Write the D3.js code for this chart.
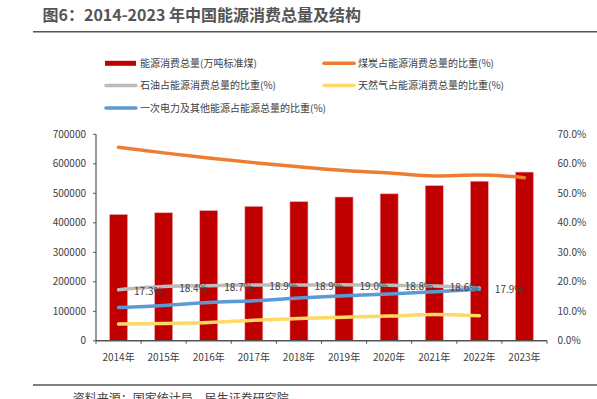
<!DOCTYPE html>
<html><head><meta charset="utf-8">
<script src="https://cdn.jsdelivr.net/npm/d3@7"></script>
<style>
body{margin:0;background:#fff;}
svg{display:block;font-family:"Noto Sans CJK SC","Noto Sans",sans-serif;}
</style></head>
<body><svg id="c" width="597" height="399"></svg>
<script>
const years = ["2014年","2015年","2016年","2017年","2018年","2019年","2020年","2021年","2022年","2023年"];
const totalEnergy = [428334,434113,441492,455827,471925,487488,498314,525896,541000,572000];
const coalShare = [65.6,63.7,62.0,60.4,59.0,57.7,56.9,55.9,56.2,55.3];
const oilShare = [17.3,18.4,18.7,18.9,18.9,19.0,18.8,18.6,17.9];
const gasShare = [5.7,5.9,6.2,7.0,7.6,8.0,8.4,8.9,8.5];
const otherShare = [11.3,12.0,13.0,13.6,14.5,15.3,15.9,16.6,17.5];
const leftTicks = [0,100000,200000,300000,400000,500000,600000,700000];
const rightTicks = [0,10,20,30,40,50,60,70];
const legendItems = [
  {name:"能源消费总量(万吨标准煤)", color:"#C00000", type:"bar"},
  {name:"煤炭占能源消费总量的比重(%)", color:"#ED7D31", type:"line"},
  {name:"石油占能源消费总量的比重(%)", color:"#BCBCBC", type:"line"},
  {name:"天然气占能源消费总量的比重(%)", color:"#FFD966", type:"line"},
  {name:"一次电力及其他能源占能源总量的比重(%)", color:"#5B9BD5", type:"line"}
];

const svg = d3.select("#c");
const L = 96, R = 547, T = 134.3, B = 340.8;
const x = d3.scaleBand().domain(years).range([L, R]).paddingInner(0.6).paddingOuter(0.3);
const xc = d => x(d) + x.bandwidth()/2;
const yL = d3.scaleLinear().domain([0,700000]).range([B,T]);
const yR = d3.scaleLinear().domain([0,70]).range([B,T]);

// title
svg.append("text").attr("x",42.5).attr("y",20.5).attr("font-size",16).attr("font-weight","bold")
  .attr("fill","#555").text("图6：2014-2023 年中国能源消费总量及结构");
svg.append("line").attr("x1",33).attr("x2",597).attr("y1",31.7).attr("y2",31.7)
  .attr("stroke","#555").attr("stroke-width",1.5);

// legend
const legPos = [[105,63.3],[323,63.3],[105,85.5],[323,85.5],[105,108]];
legendItems.forEach((it,i)=>{
  const [lx,ly] = legPos[i];
  if(it.type==="bar"){
    svg.append("rect").attr("x",lx).attr("y",ly-2.5).attr("width",31).attr("height",5).attr("fill",it.color);
  } else {
    svg.append("line").attr("x1",lx+1).attr("x2",lx+31).attr("y1",ly).attr("y2",ly)
      .attr("stroke",it.color).attr("stroke-width",3.5).attr("stroke-linecap","round");
  }
  svg.append("text").attr("x",lx+35).attr("y",ly).attr("dy","0.35em").attr("font-size",10)
    .attr("fill","#404040").text(it.name);
});

// bars
svg.append("g").selectAll("rect").data(totalEnergy).join("rect")
  .attr("x",(d,i)=>x(years[i])).attr("width",x.bandwidth())
  .attr("y",d=>yL(d)).attr("height",d=>B-yL(d))
  .attr("fill","#C00000").attr("stroke","#eab4b4").attr("stroke-width",0.6);

// lines
const lineGen = d3.line().x((d,i)=>xc(years[i])).y(d=>yR(d)).curve(d3.curveMonotoneX);
[[coalShare,"#ED7D31"],[oilShare,"#BCBCBC"],[gasShare,"#FFD966"],[otherShare,"#5B9BD5"]].forEach(([data,col])=>{
  svg.append("path").datum(data).attr("d",lineGen).attr("fill","none")
    .attr("stroke",col).attr("stroke-width",3.5).attr("stroke-linecap","round");
});

// oil labels
svg.append("g").selectAll("text").data(oilShare).join("text")
  .attr("x",(d,i)=>xc(years[i])+15.5).attr("y",d=>yR(d)+1.5).attr("dy","0.35em")
  .attr("font-size",10).attr("fill","#404040").text(d=>d.toFixed(1)+"%");

// left axis
const ga = svg.append("g");
ga.append("line").attr("x1",L).attr("x2",L).attr("y1",T).attr("y2",B).attr("stroke","#555").attr("stroke-width",1.2);
leftTicks.forEach(t=>{
  ga.append("line").attr("x1",L-3).attr("x2",L).attr("y1",yL(t)).attr("y2",yL(t)).attr("stroke","#555").attr("stroke-width",1);
  ga.append("text").attr("x",86).attr("y",yL(t)).attr("dy","0.35em").attr("text-anchor","end")
    .attr("font-size",10).attr("fill","#404040").text(t);
});
// right axis labels
rightTicks.forEach(t=>{
  ga.append("text").attr("x",557.5).attr("y",yR(t)).attr("dy","0.35em")
    .attr("font-size",10).attr("fill","#404040").text(t.toFixed(1)+"%");
});
// x axis
ga.append("line").attr("x1",L).attr("x2",R).attr("y1",B).attr("y2",B).attr("stroke","#555").attr("stroke-width",1.5);
const step = x.step();
const bounds = years.map(d=>xc(d)-step/2).concat([xc(years[years.length-1])+step/2]);
bounds.forEach(bx=>{
  ga.append("line").attr("x1",bx).attr("x2",bx).attr("y1",B).attr("y2",B+3).attr("stroke","#555").attr("stroke-width",1);
});
years.forEach(yv=>{
  ga.append("text").attr("x",xc(yv)).attr("y",357).attr("dy","0.35em").attr("text-anchor","middle")
    .attr("font-size",10).attr("fill","#404040").text(yv);
});

// footer
svg.append("line").attr("x1",33).attr("x2",597).attr("y1",385).attr("y2",385)
  .attr("stroke","#555").attr("stroke-width",1.5);
svg.append("text").attr("x",72.7).attr("y",403).attr("font-size",12).attr("fill","#404040")
  .text("资料来源：国家统计局，民生证券研究院");
</script></body></html>
